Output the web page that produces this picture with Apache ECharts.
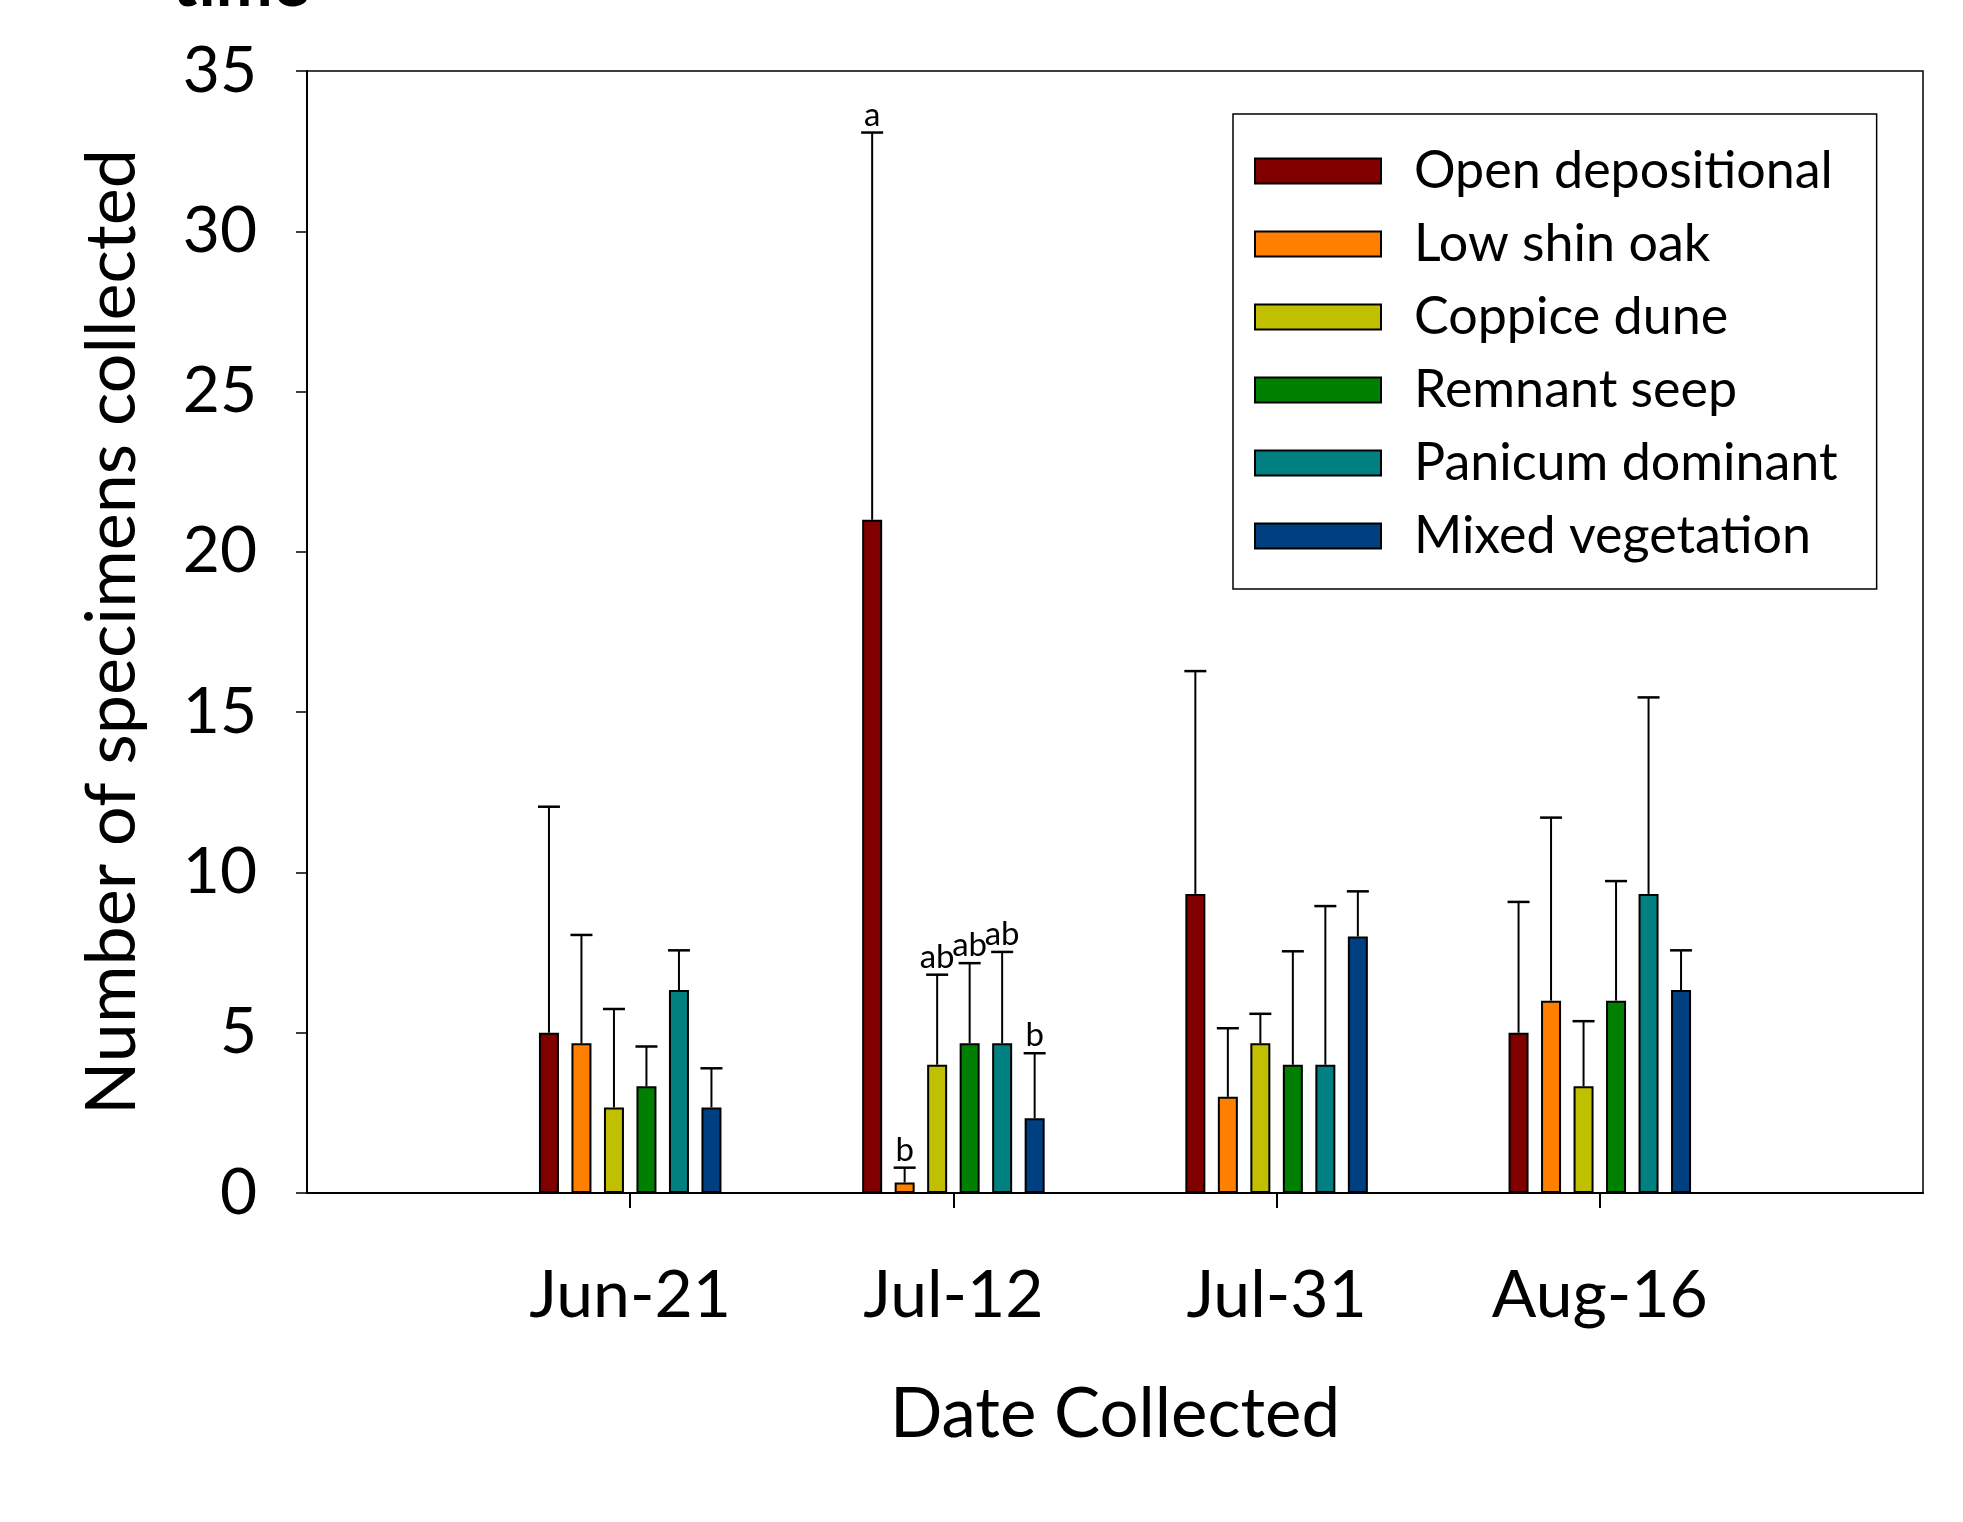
<!DOCTYPE html>
<html>
<head>
<meta charset="utf-8">
<script src="https://cdn.jsdelivr.net/npm/echarts@6/dist/echarts.min.js"></script>
<style>html,body{margin:0;padding:0;background:#fff}#c{width:1963px;height:1522px}</style>
</head>
<body>
<div id="c"></div>
<script>
// ---- data ----
const dates = ['Jun-21', 'Jul-12', 'Jul-31', 'Aug-16'];
const habitats = ['Open depositional', 'Low shin oak', 'Coppice dune', 'Remnant seep', 'Panicum dominant', 'Mixed vegetation'];
const openDepositional = [5.00, 21.00, 9.33, 5.00];
const lowShinOak       = [4.67, 0.33, 3.00, 6.00];
const coppiceDune      = [2.67, 4.00, 4.67, 3.33];
const remnantSeep      = [3.33, 4.67, 4.00, 6.00];
const panicumDominant  = [6.33, 4.67, 4.00, 9.33];
const mixedVegetation  = [2.67, 2.33, 8.00, 6.33];
// standard errors (upper error bars)
const seOpenDepositional = [7.05, 12.08, 6.95, 4.08];
const seLowShinOak       = [3.38, 0.46, 2.14, 5.71];
const seCoppiceDune      = [3.07, 2.81, 0.92, 2.03];
const seRemnantSeep      = [1.24, 2.50, 3.54, 3.73];
const sePanicumDominant  = [1.24, 2.85, 4.95, 6.13];
const seMixedVegetation  = [1.22, 2.03, 1.41, 1.24];
// significance letters per habitat, per date
const sigOpenDepositional = ['', 'a', '', ''];
const sigLowShinOak       = ['', 'b', '', ''];
const sigCoppiceDune      = ['', 'ab', '', ''];
const sigRemnantSeep      = ['', 'ab', '', ''];
const sigPanicumDominant  = ['', 'ab', '', ''];
const sigMixedVegetation  = ['', 'b', '', ''];
const yTicks = [0, 5, 10, 15, 20, 25, 30, 35];

const means = [openDepositional, lowShinOak, coppiceDune, remnantSeep, panicumDominant, mixedVegetation];
const ses = [seOpenDepositional, seLowShinOak, seCoppiceDune, seRemnantSeep, sePanicumDominant, seMixedVegetation];
const sigs = [sigOpenDepositional, sigLowShinOak, sigCoppiceDune, sigRemnantSeep, sigPanicumDominant, sigMixedVegetation];
const colors = ['#800000', '#FF8000', '#C0C000', '#008000', '#008080', '#004080'];

const FONT = 'Lato';
const barWidth = 20;
const barGapRatio = 0.625;
const pitch = barWidth * (1 + barGapRatio);
const axisCats = [''].concat(dates).concat(['']);

const series = [];
habitats.forEach((h, si) => {
  series.push({
    type: 'bar',
    name: h,
    data: ['-'].concat(means[si]).concat(['-']),
    barWidth: barWidth,
    barGap: (barGapRatio * 100) + '%',
    itemStyle: { color: colors[si], borderColor: '#000', borderWidth: 2 },
    z: 2
  });
});
habitats.forEach((h, si) => {
  series.push({
    type: 'custom',
    name: h + ' SE',
    data: means[si].map((m, i) => [i + 1, m, ses[si][i]]),
    z: 3,
    silent: true,
    renderItem: function (params, api) {
      const x = api.value(0), m = api.value(1), se = api.value(2);
      const base = api.coord([x, m]);
      const top = api.coord([x, m + se]);
      const cx = base[0] + (si - 2.5) * pitch;
      const children = [
        { type: 'line', shape: { x1: cx, y1: base[1], x2: cx, y2: top[1] }, style: { stroke: '#000', lineWidth: 2 } },
        { type: 'line', shape: { x1: cx - 11, y1: top[1], x2: cx + 11, y2: top[1] }, style: { stroke: '#000', lineWidth: 2.5 } }
      ];
      const s = sigs[si][params.dataIndex];
      if (s) {
        children.push({ type: 'text', x: cx, y: top[1] - 1, style: { text: s, fill: '#000', font: '33px ' + FONT, align: 'center', verticalAlign: 'bottom' } });
      }
      return { type: 'group', children: children };
    }
  });
});

const chart = echarts.init(document.getElementById('c'), null, { renderer: 'canvas' });
chart.setOption({
  animation: false,
  backgroundColor: '#fff',
  textStyle: { fontFamily: FONT },
  grid: { left: 307, right: 40, top: 71, bottom: 329, show: true, borderColor: '#000', borderWidth: 1.5, backgroundColor: 'transparent' },
  graphic: [
    { type: 'text', left: 172, top: -50, style: { text: 'time', font: 'bold 68px ' + FONT, fill: '#000' } }
  ],
  legend: {
    data: habitats,
    orient: 'vertical',
    left: 1233,
    top: 114,
    itemWidth: 126,
    itemHeight: 25,
    itemGap: 21,
    icon: 'rect',
    borderColor: '#000',
    borderWidth: 1.5,
    padding: [31, 39, 27, 21],
    textStyle: { fontFamily: FONT, fontSize: 52, color: '#000', lineHeight: 52, padding: [0, 0, 0, 28] }
  },
  xAxis: {
    type: 'category',
    data: axisCats,
    boundaryGap: false,
    name: 'Date Collected',
    nameLocation: 'middle',
    nameGap: 187,
    nameTextStyle: { fontFamily: FONT, fontSize: 69, color: '#000' },
    axisLine: { show: true, lineStyle: { color: '#000', width: 2 } },
    axisTick: { show: true, inside: false, length: 15, lineStyle: { color: '#000', width: 2 }, interval: function (i) { return i > 0 && i < axisCats.length - 1; } },
    axisLabel: { interval: 0, margin: 70, fontFamily: FONT, fontSize: 66, color: '#000' },
    splitLine: { show: false }
  },
  yAxis: {
    type: 'value',
    min: yTicks[0],
    max: yTicks[yTicks.length - 1],
    interval: yTicks[1] - yTicks[0],
    name: 'Number of specimens collected',
    nameLocation: 'middle',
    nameGap: 160,
    nameTextStyle: { fontFamily: FONT, fontSize: 70, color: '#000' },
    axisLine: { show: true, lineStyle: { color: '#000', width: 2 } },
    axisTick: { show: true, inside: false, length: 11, lineStyle: { color: '#000', width: 1.5 } },
    axisLabel: { margin: 50, fontFamily: FONT, fontSize: 64, color: '#000' },
    splitLine: { show: false }
  },
  series: series
});
</script>
</body>
</html>
